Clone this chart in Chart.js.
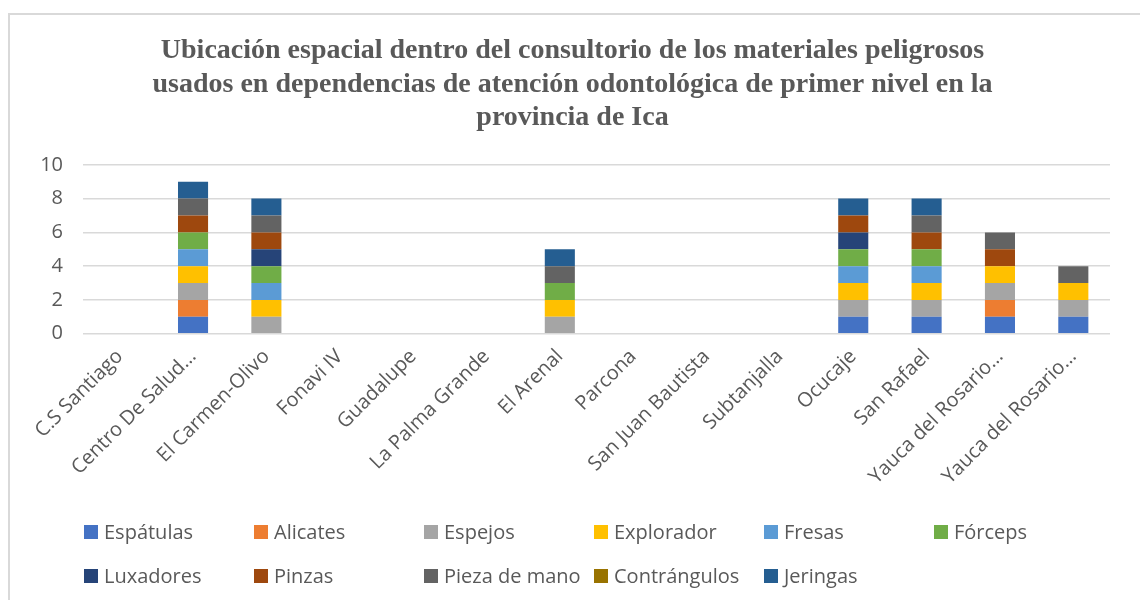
<!DOCTYPE html>
<html>
<head>
<meta charset="utf-8">
<script src="https://cdn.jsdelivr.net/npm/chart.js@4"></script>
<style>
  html, body { margin: 0; padding: 0; background: #fff; }
  #wrap { position: relative; width: 1140px; height: 600px; overflow: hidden; }
  #frame { position: absolute; left: 8px; top: 13px; width: 1200px; height: 700px;
           border-left: 2px solid #d9d9d9; border-top: 2px solid #d9d9d9; }
  canvas { position: absolute; left: 0; top: 0; }
</style>
</head>
<body>
<div id="wrap">
  <div id="frame"></div>
  <canvas id="chart" width="1140" height="600"></canvas>
</div>
<script>
const categories = ['C.S Santiago', 'Centro De Salud…', 'El Carmen-Olivo', 'Fonavi IV', 'Guadalupe',
  'La Palma Grande', 'El Arenal', 'Parcona', 'San Juan Bautista', 'Subtanjalla', 'Ocucaje',
  'San Rafael', 'Yauca del Rosario…', 'Yauca del Rosario…'];

const espatulas    = [0, 1, 0, 0, 0, 0, 0, 0, 0, 0, 1, 1, 1, 1];
const alicates     = [0, 1, 0, 0, 0, 0, 0, 0, 0, 0, 0, 0, 1, 0];
const espejos      = [0, 1, 1, 0, 0, 0, 1, 0, 0, 0, 1, 1, 1, 1];
const explorador   = [0, 1, 1, 0, 0, 0, 1, 0, 0, 0, 1, 1, 1, 1];
const fresas       = [0, 1, 1, 0, 0, 0, 0, 0, 0, 0, 1, 1, 0, 0];
const forceps      = [0, 1, 1, 0, 0, 0, 1, 0, 0, 0, 1, 1, 0, 0];
const luxadores    = [0, 0, 1, 0, 0, 0, 0, 0, 0, 0, 1, 0, 0, 0];
const pinzas       = [0, 1, 1, 0, 0, 0, 0, 0, 0, 0, 1, 1, 1, 0];
const piezaDeMano  = [0, 1, 1, 0, 0, 0, 1, 0, 0, 0, 0, 1, 1, 1];
const contrangulos = [0, 0, 0, 0, 0, 0, 0, 0, 0, 0, 0, 0, 0, 0];
const jeringas     = [0, 1, 1, 0, 0, 0, 1, 0, 0, 0, 1, 1, 0, 0];

const yTicks = [0, 2, 4, 6, 8, 10];

const series = [
  ['Espátulas', espatulas, '#4472C4'],
  ['Alicates', alicates, '#ED7D31'],
  ['Espejos', espejos, '#A5A5A5'],
  ['Explorador', explorador, '#FFC000'],
  ['Fresas', fresas, '#5B9BD5'],
  ['Fórceps', forceps, '#70AD47'],
  ['Luxadores', luxadores, '#264478'],
  ['Pinzas', pinzas, '#9E480E'],
  ['Pieza de mano', piezaDeMano, '#636363'],
  ['Contrángulos', contrangulos, '#997300'],
  ['Jeringas', jeringas, '#255E91']
];

const FONT = "'Open Sans', sans-serif";

// legend drawn as a fixed grid, like the original
const gridLegend = {
  id: 'gridLegend',
  afterDraw(chart) {
    const ctx = chart.ctx;
    ctx.save();
    ctx.font = '20px ' + FONT;
    ctx.textBaseline = 'middle';
    chart.data.datasets.forEach((ds, i) => {
      const col = i % 6, row = Math.floor(i / 6);
      const x = 84 + col * 170;
      const y = 532 + row * 44;
      ctx.fillStyle = ds.backgroundColor;
      ctx.fillRect(x, y - 7, 14, 14);
      ctx.fillStyle = '#595959';
      ctx.fillText(ds.label, x + 20, y + 1);
    });
    ctx.restore();
  }
};

new Chart(document.getElementById('chart'), {
  type: 'bar',
  data: {
    labels: categories,
    datasets: series.map(([label, data, color]) => ({
      label, data,
      backgroundColor: color,
      borderWidth: 0,
      categoryPercentage: 1,
      barPercentage: 0.41
    }))
  },
  options: {
    responsive: false,
    animation: false,
    layout: { padding: { left: 35, right: 30, top: 20, bottom: 108 } },
    plugins: {
      legend: { display: false },
      tooltip: { enabled: false },
      title: {
        display: true,
        text: ['Ubicación espacial dentro del consultorio de los materiales peligrosos',
               'usados en dependencias de atención odontológica de primer nivel en la',
               'provincia de Ica'],
        color: '#595959',
        font: { family: "'Liberation Serif', 'Times New Roman', serif", size: 28, weight: 'bold', lineHeight: 1.2 },
        padding: { top: 14, bottom: 30 }
      }
    },
    scales: {
      x: {
        stacked: true,
        grid: { display: false },
        border: { display: false },
        ticks: {
          color: '#595959',
          font: { family: FONT, size: 20 },
          maxRotation: 45, minRotation: 45,
          autoSkip: false
        }
      },
      y: {
        stacked: true,
        min: 0, max: 10,
        afterBuildTicks: axis => { axis.ticks = yTicks.map(v => ({ value: v })); },
        afterFit: axis => { axis.width = 48; },
        grid: { color: '#d9d9d9', lineWidth: 1.5, drawTicks: false },
        border: { display: false },
        ticks: {
          color: '#595959',
          font: { family: FONT, size: 20 },
          padding: 20
        }
      }
    }
  },
  plugins: [gridLegend]
});
</script>
</body>
</html>
